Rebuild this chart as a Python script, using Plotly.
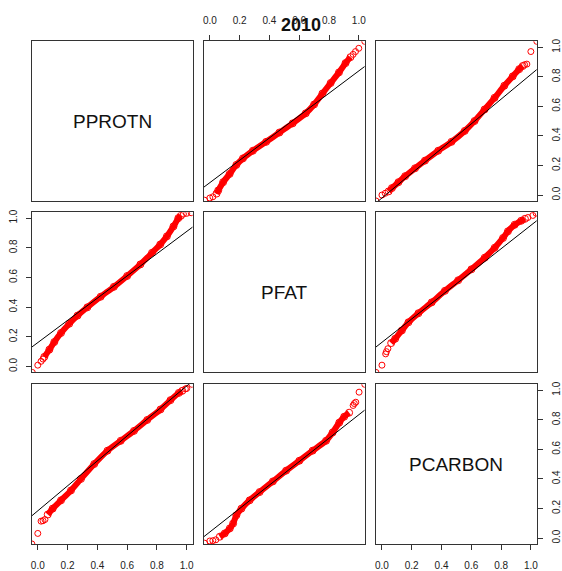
import plotly.graph_objects as go

W, H = 562, 571
variables = ["PPROTN", "PFAT", "PCARBON"]
title_text = "2010"
tick_vals = [0.0, 0.2, 0.4, 0.6, 0.8, 1.0]
axis_range = [-0.04, 1.04]

# ---- quantile points (dense band + isolated tail circles) ----
p12_x = [0.045, 0.056, 0.089, 0.133, 0.178, 0.222, 0.289, 0.378, 0.467, 0.556, 0.644, 0.700, 0.756, 0.811, 0.867, 0.911, 0.944]
p12_y = [0.010, 0.031, 0.087, 0.143, 0.204, 0.248, 0.300, 0.360, 0.423, 0.485, 0.553, 0.613, 0.687, 0.758, 0.830, 0.893, 0.933]
p12_tx = [-0.035, 0.0, 0.02, 0.962, 0.978, 1.0, 1.04]
p12_ty = [-0.035, -0.02, -0.012, 0.952, 0.971, 0.993, 1.04]

p13_x = [0.045, 0.067, 0.111, 0.156, 0.222, 0.289, 0.378, 0.467, 0.556, 0.622, 0.689, 0.756, 0.822, 0.878, 0.922, 0.945]
p13_y = [0.025, 0.047, 0.087, 0.128, 0.181, 0.233, 0.300, 0.360, 0.434, 0.501, 0.579, 0.658, 0.740, 0.803, 0.852, 0.873]
p13_tx = [-0.04, 0.0, 0.022, 0.958, 0.973, 1.0, 1.04]
p13_ty = [-0.04, 0.0, 0.012, 0.882, 0.886, 0.971, 1.04]

p21_x = [0.044, 0.078, 0.111, 0.156, 0.211, 0.267, 0.333, 0.422, 0.511, 0.600, 0.689, 0.767, 0.822, 0.867, 0.911, 0.944, 0.960]
p21_y = [0.065, 0.114, 0.165, 0.226, 0.288, 0.343, 0.399, 0.470, 0.537, 0.610, 0.688, 0.766, 0.822, 0.877, 0.944, 1.000, 1.015]
p21_tx = [-0.037, 0.0, 0.022, 0.035, 0.978, 1.0, 1.03]
p21_ty = [-0.04, 0.009, 0.035, 0.050, 1.027, 1.032, 1.036]

p23_x = [0.062, 0.089, 0.134, 0.178, 0.245, 0.334, 0.423, 0.512, 0.601, 0.690, 0.757, 0.813, 0.846, 0.891, 0.935, 0.960]
p23_y = [0.158, 0.187, 0.243, 0.298, 0.359, 0.432, 0.510, 0.581, 0.655, 0.733, 0.800, 0.866, 0.911, 0.955, 0.982, 0.995]
p23_tx = [-0.04, 0.0, 0.025, 0.030, 0.040, 0.980, 1.013, 1.035]
p23_ty = [-0.04, 0.009, 0.085, 0.100, 0.120, 1.004, 1.018, 1.033]

p31_x = [0.067, 0.100, 0.156, 0.223, 0.290, 0.379, 0.468, 0.557, 0.646, 0.735, 0.824, 0.891, 0.947, 0.970]
p31_y = [0.159, 0.199, 0.255, 0.322, 0.400, 0.501, 0.591, 0.658, 0.725, 0.799, 0.870, 0.933, 0.982, 0.996]
p31_tx = [-0.04, 0.0, 0.022, 0.035, 0.048, 0.991, 1.0, 1.035]
p31_ty = [-0.04, 0.031, 0.114, 0.117, 0.125, 1.009, 1.012, 1.04]

p32_x = [0.067, 0.100, 0.134, 0.156, 0.178, 0.212, 0.267, 0.334, 0.423, 0.512, 0.601, 0.690, 0.780, 0.824, 0.869, 0.902, 0.935]
p32_y = [0.009, 0.031, 0.065, 0.098, 0.154, 0.199, 0.255, 0.311, 0.383, 0.456, 0.523, 0.591, 0.658, 0.714, 0.781, 0.821, 0.848]
p32_tx = [-0.035, 0.0, 0.02, 0.04, 0.962, 0.970, 0.980, 1.002, 1.04]
p32_ty = [-0.035, -0.02, -0.018, -0.012, 0.897, 0.910, 0.919, 0.987, 1.04]

# qqline of each panel (intercept, slope), same order as panel_cells
panel_cells = [(1, 2), (1, 3), (2, 1), (2, 3), (3, 1), (3, 2)]
qq_intercept = [0.084, -0.020, 0.161, 0.163, 0.184, 0.041]
qq_slope = [0.756, 0.836, 0.749, 0.788, 0.845, 0.793]

band_x = [p12_x, p13_x, p21_x, p23_x, p31_x, p32_x]
band_y = [p12_y, p13_y, p21_y, p23_y, p31_y, p32_y]
tail_x = [p12_tx, p13_tx, p21_tx, p23_tx, p31_tx, p32_tx]
tail_y = [p12_ty, p13_ty, p21_ty, p23_ty, p31_ty, p32_ty]

# ---- layout geometry (pixels) ----
col_px = [(31, 192.7), (204, 365.7), (377, 538.7)]
row_px = [(38.7, 199.7), (211, 372.7), (384.7, 545.7)]

FONT = "Liberation Sans, Arial, Helvetica, sans-serif"
RED = "#FF0000"
BOX = "#333333"

fig = go.Figure()
layout = dict(
    width=W, height=H,
    margin=dict(l=0, r=0, t=0, b=0),
    paper_bgcolor="white", plot_bgcolor="white",
    showlegend=False,
    font=dict(family=FONT, size=10, color="#222222"),
)

x_labeled = {(1, 2): "top", (3, 1): "bottom", (3, 3): "bottom"}
y_labeled = {(1, 3): "right", (2, 1): "left", (3, 3): "right"}

for r in range(1, 4):
    for c in range(1, 4):
        n = (r - 1) * 3 + c
        sfx = "" if n == 1 else str(n)
        x0, x1 = col_px[c - 1]
        y0, y1 = row_px[r - 1]
        xd = [x0 / W, x1 / W]
        yd = [1 - y1 / H, 1 - y0 / H]
        xl = (r, c) in x_labeled
        yl = (r, c) in y_labeled
        layout["xaxis" + sfx] = dict(
            domain=xd, range=axis_range, anchor="y" + sfx,
            showline=True, mirror=True, linecolor=BOX, linewidth=1,
            showgrid=False, zeroline=False,
            ticks="outside" if xl else "", ticklen=5, tickcolor=BOX, tickwidth=1,
            showticklabels=xl, side=x_labeled.get((r, c), "bottom"),
            tickvals=tick_vals, tickformat=".1f",
            tickfont=dict(family=FONT, size=10, color="#222222"),
            ticklabelstandoff=7,
            fixedrange=True,
        )
        layout["yaxis" + sfx] = dict(
            domain=yd, range=axis_range, anchor="x" + sfx,
            showline=True, mirror=True, linecolor=BOX, linewidth=1,
            showgrid=False, zeroline=False,
            ticks="outside" if yl else "", ticklen=5, tickcolor=BOX, tickwidth=1,
            showticklabels=yl, side=y_labeled.get((r, c), "left"),
            tickvals=tick_vals, tickformat=".1f", tickangle=-90,
            tickfont=dict(family=FONT, size=10, color="#222222"),
            ticklabelstandoff=5,
            fixedrange=True,
        )

for i, (r, c) in enumerate(panel_cells):
    n = (r - 1) * 3 + c
    sfx = "" if n == 1 else str(n)
    xa, ya = "x" + sfx, "y" + sfx
    fig.add_trace(go.Scatter(
        x=band_x[i], y=band_y[i], xaxis=xa, yaxis=ya, mode="lines+markers",
        line=dict(color=RED, width=6, shape="spline", smoothing=0.6),
        marker=dict(symbol="circle-open", size=7, color=RED, line=dict(width=1, color=RED)),
        hoverinfo="skip",
    ))
    fig.add_trace(go.Scatter(
        x=tail_x[i], y=tail_y[i], xaxis=xa, yaxis=ya, mode="markers",
        marker=dict(symbol="circle-open", size=6, color=RED, line=dict(width=1, color=RED)),
        hoverinfo="skip",
    ))
    lx = [axis_range[0], axis_range[1]]
    ly = [qq_intercept[i] + qq_slope[i] * v for v in lx]
    fig.add_trace(go.Scatter(
        x=lx, y=ly, xaxis=xa, yaxis=ya, mode="lines",
        line=dict(color="black", width=1), hoverinfo="skip",
    ))

annotations = []
for k, name in enumerate(variables):
    n = k * 3 + k + 1
    sfx = "" if n == 1 else str(n)
    annotations.append(dict(
        text=name, x=0.5, y=0.5, xref="x" + sfx, yref="y" + sfx,
        showarrow=False, font=dict(family=FONT, size=19, color="#111111"),
        xanchor="center", yanchor="middle",
    ))
annotations.append(dict(
    text=title_text, x=302 / W, y=1 - 22 / H, xref="paper", yref="paper",
    showarrow=False, font=dict(family=FONT, size=18, color="#111111", weight="bold"),
    xanchor="center", yanchor="middle",
))
layout["annotations"] = annotations

fig.update_layout(**layout)
fig.write_html(
    "out.html",
    config={"displayModeBar": False, "staticPlot": True},
    post_script="document.body.style.margin='0';document.body.style.padding='0';",
)
